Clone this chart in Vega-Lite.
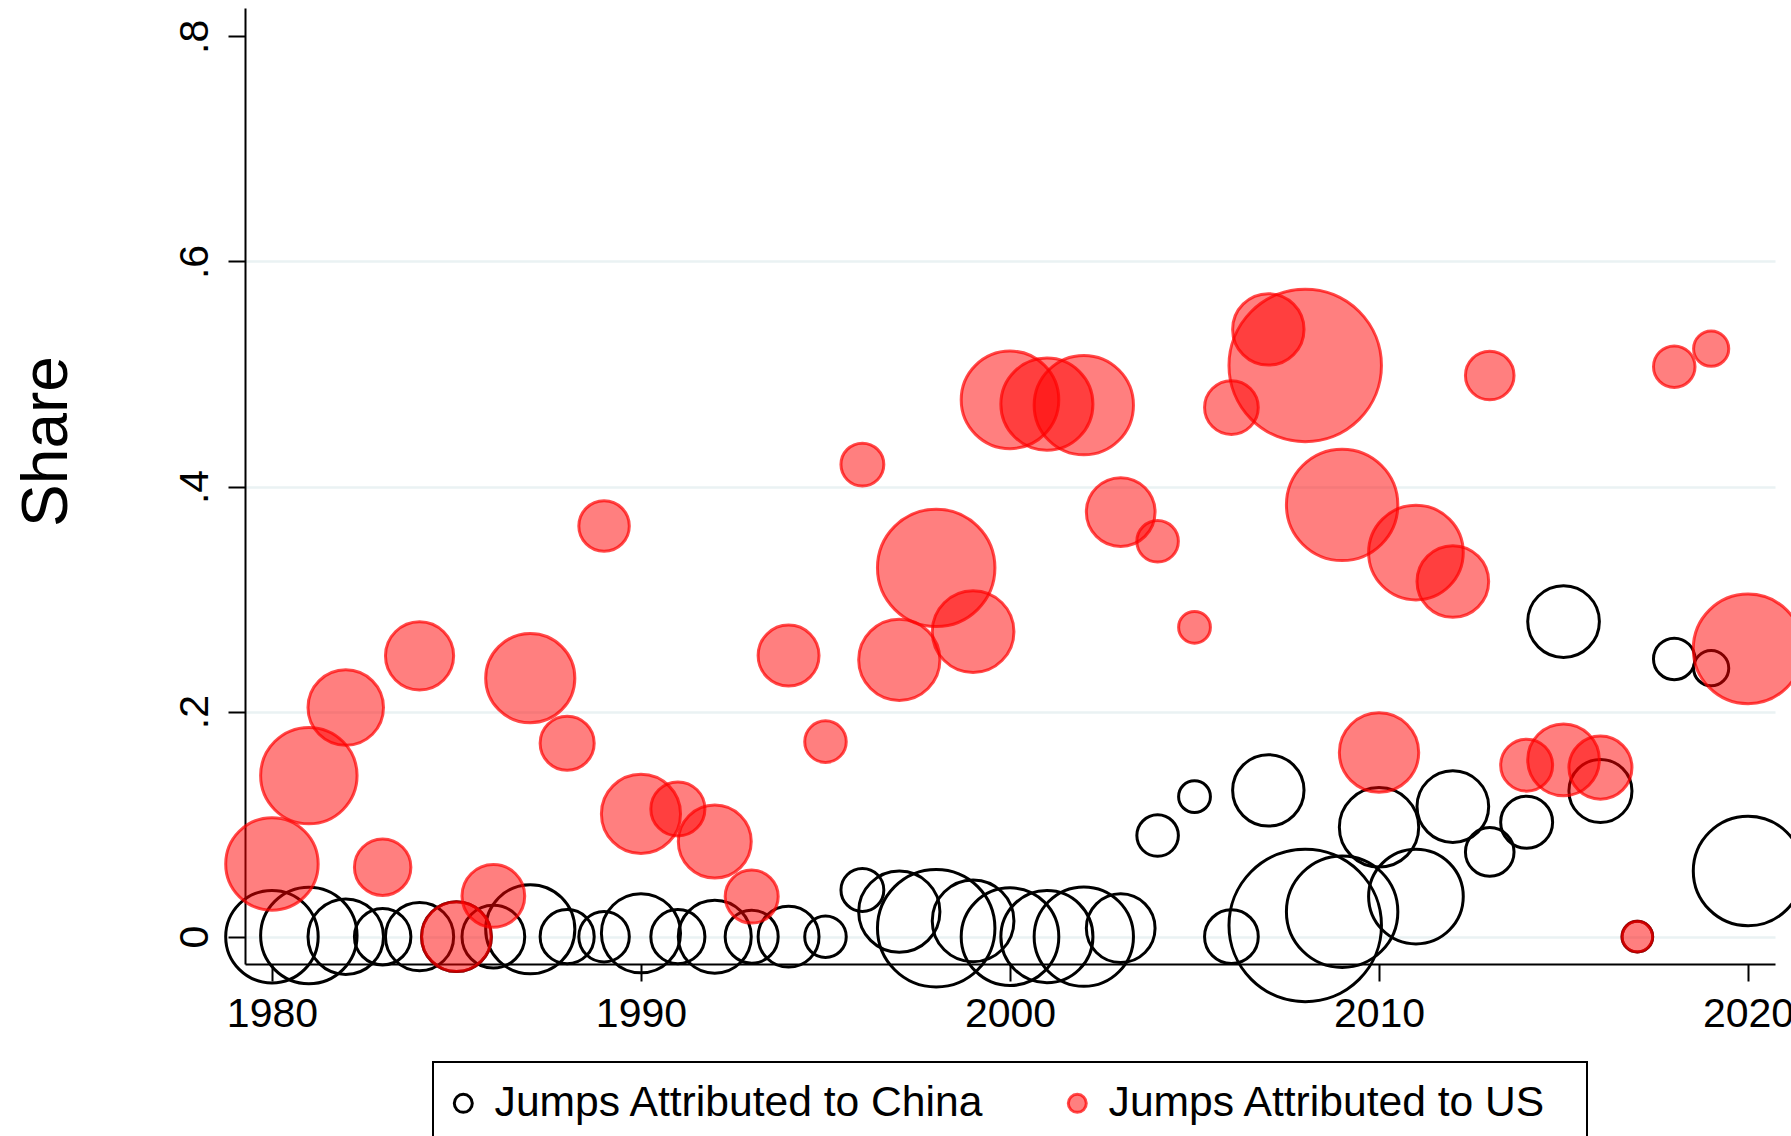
{
  "$schema": "https://vega.github.io/schema/vega-lite/v6.json",
  "width": 1530,
  "height": 956,
  "autosize": {"type": "none"},
  "padding": {"left": 245, "top": 8, "right": 16, "bottom": 172},
  "background": "white",
  "config": {
    "view": {"stroke": null},
    "font": "Liberation Sans",
    "legend": {"strokeWidth": 2}
  },
  "datasets": {
    "jumps": [
      {"year": 1980, "series": "Jumps Attributed to China", "share": 0.0, "weight": 22.8},
      {"year": 1981, "series": "Jumps Attributed to China", "share": 0.001, "weight": 24.8},
      {"year": 1982, "series": "Jumps Attributed to China", "share": 0.0, "weight": 15.2},
      {"year": 1983, "series": "Jumps Attributed to China", "share": 0.0, "weight": 8.5},
      {"year": 1984, "series": "Jumps Attributed to China", "share": 0.0, "weight": 12.4},
      {"year": 1985, "series": "Jumps Attributed to China", "share": 0.0, "weight": 13.0},
      {"year": 1986, "series": "Jumps Attributed to China", "share": 0.0, "weight": 10.5},
      {"year": 1987, "series": "Jumps Attributed to China", "share": 0.0066, "weight": 21.2},
      {"year": 1988, "series": "Jumps Attributed to China", "share": 0.0, "weight": 7.8},
      {"year": 1989, "series": "Jumps Attributed to China", "share": 0.0, "weight": 6.8},
      {"year": 1990, "series": "Jumps Attributed to China", "share": 0.003, "weight": 16.7},
      {"year": 1991, "series": "Jumps Attributed to China", "share": 0.0, "weight": 7.8},
      {"year": 1992, "series": "Jumps Attributed to China", "share": 0.0, "weight": 14.2},
      {"year": 1993, "series": "Jumps Attributed to China", "share": 0.0, "weight": 7.5},
      {"year": 1994, "series": "Jumps Attributed to China", "share": 0.0, "weight": 9.9},
      {"year": 1995, "series": "Jumps Attributed to China", "share": 0.0, "weight": 4.6},
      {"year": 1996, "series": "Jumps Attributed to China", "share": 0.0415, "weight": 4.9},
      {"year": 1997, "series": "Jumps Attributed to China", "share": 0.0222, "weight": 17.6},
      {"year": 1998, "series": "Jumps Attributed to China", "share": 0.0075, "weight": 36.8},
      {"year": 1999, "series": "Jumps Attributed to China", "share": 0.014, "weight": 17.8},
      {"year": 2000, "series": "Jumps Attributed to China", "share": 0.0, "weight": 25.4},
      {"year": 2001, "series": "Jumps Attributed to China", "share": 0.0, "weight": 22.6},
      {"year": 2002, "series": "Jumps Attributed to China", "share": 0.0, "weight": 26.3},
      {"year": 2003, "series": "Jumps Attributed to China", "share": 0.0075, "weight": 12.6},
      {"year": 2004, "series": "Jumps Attributed to China", "share": 0.0898, "weight": 4.6},
      {"year": 2005, "series": "Jumps Attributed to China", "share": 0.1244, "weight": 2.7},
      {"year": 2006, "series": "Jumps Attributed to China", "share": 0.0, "weight": 7.7},
      {"year": 2007, "series": "Jumps Attributed to China", "share": 0.13, "weight": 13.6},
      {"year": 2008, "series": "Jumps Attributed to China", "share": 0.01, "weight": 62.0},
      {"year": 2009, "series": "Jumps Attributed to China", "share": 0.0222, "weight": 33.1},
      {"year": 2010, "series": "Jumps Attributed to China", "share": 0.0972, "weight": 16.8},
      {"year": 2011, "series": "Jumps Attributed to China", "share": 0.0356, "weight": 23.9},
      {"year": 2012, "series": "Jumps Attributed to China", "share": 0.1156, "weight": 13.7},
      {"year": 2013, "series": "Jumps Attributed to China", "share": 0.0753, "weight": 6.3},
      {"year": 2014, "series": "Jumps Attributed to China", "share": 0.1017, "weight": 7.2},
      {"year": 2015, "series": "Jumps Attributed to China", "share": 0.28, "weight": 13.7},
      {"year": 2016, "series": "Jumps Attributed to China", "share": 0.1295, "weight": 10.6},
      {"year": 2017, "series": "Jumps Attributed to China", "share": 0.0, "weight": 2.5},
      {"year": 2018, "series": "Jumps Attributed to China", "share": 0.2468, "weight": 4.6},
      {"year": 2019, "series": "Jumps Attributed to China", "share": 0.2386, "weight": 3.3},
      {"year": 2020, "series": "Jumps Attributed to China", "share": 0.0584, "weight": 32.0},
      {"year": 1980, "series": "Jumps Attributed to US", "share": 0.0646, "weight": 22.8},
      {"year": 1981, "series": "Jumps Attributed to US", "share": 0.1431, "weight": 24.8},
      {"year": 1982, "series": "Jumps Attributed to US", "share": 0.2036, "weight": 15.2},
      {"year": 1983, "series": "Jumps Attributed to US", "share": 0.0617, "weight": 8.5},
      {"year": 1984, "series": "Jumps Attributed to US", "share": 0.2495, "weight": 12.4},
      {"year": 1985, "series": "Jumps Attributed to US", "share": 0.0, "weight": 13.0},
      {"year": 1986, "series": "Jumps Attributed to US", "share": 0.0362, "weight": 10.5},
      {"year": 1987, "series": "Jumps Attributed to US", "share": 0.2297, "weight": 21.2},
      {"year": 1988, "series": "Jumps Attributed to US", "share": 0.1719, "weight": 7.8},
      {"year": 1989, "series": "Jumps Attributed to US", "share": 0.3649, "weight": 6.8},
      {"year": 1990, "series": "Jumps Attributed to US", "share": 0.1091, "weight": 16.7},
      {"year": 1991, "series": "Jumps Attributed to US", "share": 0.1135, "weight": 7.8},
      {"year": 1992, "series": "Jumps Attributed to US", "share": 0.0845, "weight": 14.2},
      {"year": 1993, "series": "Jumps Attributed to US", "share": 0.0356, "weight": 7.5},
      {"year": 1994, "series": "Jumps Attributed to US", "share": 0.2498, "weight": 9.9},
      {"year": 1995, "series": "Jumps Attributed to US", "share": 0.1733, "weight": 4.6},
      {"year": 1996, "series": "Jumps Attributed to US", "share": 0.4195, "weight": 4.9},
      {"year": 1997, "series": "Jumps Attributed to US", "share": 0.246, "weight": 17.6},
      {"year": 1998, "series": "Jumps Attributed to US", "share": 0.3277, "weight": 36.8},
      {"year": 1999, "series": "Jumps Attributed to US", "share": 0.271, "weight": 17.8},
      {"year": 2000, "series": "Jumps Attributed to US", "share": 0.477, "weight": 25.4},
      {"year": 2001, "series": "Jumps Attributed to US", "share": 0.4732, "weight": 22.6},
      {"year": 2002, "series": "Jumps Attributed to US", "share": 0.4723, "weight": 26.3},
      {"year": 2003, "series": "Jumps Attributed to US", "share": 0.3773, "weight": 12.6},
      {"year": 2004, "series": "Jumps Attributed to US", "share": 0.3513, "weight": 4.6},
      {"year": 2005, "series": "Jumps Attributed to US", "share": 0.2749, "weight": 2.7},
      {"year": 2006, "series": "Jumps Attributed to US", "share": 0.4702, "weight": 7.7},
      {"year": 2007, "series": "Jumps Attributed to US", "share": 0.5396, "weight": 13.6},
      {"year": 2008, "series": "Jumps Attributed to US", "share": 0.5076, "weight": 62.0},
      {"year": 2009, "series": "Jumps Attributed to US", "share": 0.3837, "weight": 33.1},
      {"year": 2010, "series": "Jumps Attributed to US", "share": 0.1636, "weight": 16.8},
      {"year": 2011, "series": "Jumps Attributed to US", "share": 0.3413, "weight": 23.9},
      {"year": 2012, "series": "Jumps Attributed to US", "share": 0.3156, "weight": 13.7},
      {"year": 2013, "series": "Jumps Attributed to US", "share": 0.4986, "weight": 6.3},
      {"year": 2014, "series": "Jumps Attributed to US", "share": 0.1524, "weight": 7.2},
      {"year": 2015, "series": "Jumps Attributed to US", "share": 0.1571, "weight": 13.7},
      {"year": 2016, "series": "Jumps Attributed to US", "share": 0.1502, "weight": 10.6},
      {"year": 2017, "series": "Jumps Attributed to US", "share": 0.0, "weight": 2.5},
      {"year": 2018, "series": "Jumps Attributed to US", "share": 0.5065, "weight": 4.6},
      {"year": 2019, "series": "Jumps Attributed to US", "share": 0.5225, "weight": 3.3},
      {"year": 2020, "series": "Jumps Attributed to US", "share": 0.2557, "weight": 32.0}
    ]
  },
  "data": {"name": "jumps"},
  "mark": {"type": "circle", "opacity": 1, "strokeWidth": 3},
  "encoding": {
    "x": {
      "field": "year",
      "type": "quantitative",
      "scale": {"domain": [1979.27, 2020.73], "nice": false, "zero": false},
      "axis": {
        "values": [1980, 1990, 2000, 2010, 2020],
        "format": "d",
        "title": null,
        "grid": false,
        "domainColor": "black",
        "domainWidth": 2,
        "tickColor": "black",
        "tickWidth": 2,
        "tickSize": 17,
        "labelPadding": 13,
        "labelFontSize": 41,
        "labelFont": "Liberation Sans",
        "labelColor": "black",
        "labelFlush": false,
        "labelOverlap": false
      }
    },
    "y": {
      "field": "share",
      "type": "quantitative",
      "scale": {"domain": [-0.0243, 0.8252], "nice": false, "zero": false},
      "axis": {
        "values": [0, 0.2, 0.4, 0.6, 0.8],
        "labelExpr": "datum.value == 0 ? '0' : replace(format(datum.value, '.1f'), '0.', '.')",
        "title": "Share",
        "titleFontSize": 64,
        "titleFont": "Liberation Sans",
        "titleFontWeight": "normal",
        "titleColor": "black",
        "titleAngle": 270,
        "titleAlign": "center",
        "titleBaseline": "alphabetic",
        "titleX": -179,
        "titleY": 433,
        "grid": true,
        "gridColor": "#EAF2F3",
        "gridWidth": 2.5,
        "gridOpacity": {"condition": {"test": "datum.value > 0.7", "value": 0}, "value": 1},
        "domainColor": "black",
        "domainWidth": 2,
        "tickColor": "black",
        "tickWidth": 2,
        "tickSize": 17,
        "labelAngle": 270,
        "labelAlign": "center",
        "labelBaseline": "bottom",
        "labelPadding": 12,
        "labelFontSize": 41,
        "labelFont": "Liberation Sans",
        "labelColor": "black",
        "labelFlush": false,
        "labelOverlap": false
      }
    },
    "size": {
      "field": "weight",
      "type": "quantitative",
      "scale": {"type": "linear", "domain": [0, 100], "range": [0, 37500], "zero": true},
      "legend": null
    },
    "fill": {
      "field": "series",
      "type": "nominal",
      "scale": {"domain": ["Jumps Attributed to China", "Jumps Attributed to US"], "range": ["rgba(255,255,255,0)", "rgba(255,0,0,0.5)"]},
      "legend": {
        "title": null,
        "orient": "none",
        "legendX": 188,
        "legendY": 1054,
        "direction": "horizontal",
        "labelFontSize": 42.6,
        "labelFont": "Liberation Sans",
        "labelColor": "black",
        "labelLimit": 0,
        "labelOffset": 10,
        "symbolOffset": -11,
        "columnPadding": 77,
        "padding": 20,
        "strokeColor": "black",
        "symbolType": "circle",
        "symbolSize": 324,
        "symbolStrokeWidth": 3,
        "labelExpr": "datum.value === 'Jumps Attributed to US' ? datum.label + '\u00a0\u2009\u200b' : datum.label"
      }
    },
    "stroke": {
      "field": "series",
      "type": "nominal",
      "scale": {"domain": ["Jumps Attributed to China", "Jumps Attributed to US"], "range": ["#000000", "rgba(255,0,0,0.7)"]}
    },
    "order": {"field": "series", "type": "nominal", "sort": "ascending"}
  }
}
